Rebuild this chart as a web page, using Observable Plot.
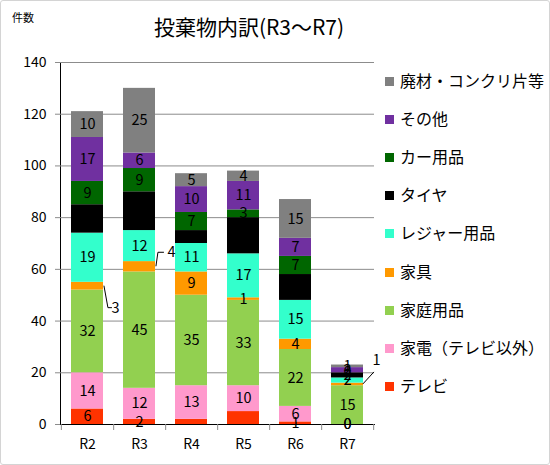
<!DOCTYPE html>
<html><head><meta charset="utf-8">
<script src="https://cdn.jsdelivr.net/npm/d3@7"></script>
<script src="https://cdn.jsdelivr.net/npm/@observablehq/plot@0.6"></script>
<style>
body{margin:0;background:#fff;}
#wrap{position:relative;width:550px;height:465px;overflow:hidden;font-family:"Noto Sans CJK JP","Noto Sans",sans-serif;color:#000;}
#frame{position:absolute;left:0;top:0;width:548px;height:463px;border:1px solid #d4d4d4;border-radius:3px;pointer-events:none;}
#title{position:absolute;left:0;width:498px;top:11px;text-align:center;font-size:21px;line-height:30px;}
#unit{position:absolute;left:12px;top:9px;font-size:11px;line-height:16px;}
.lg{position:absolute;left:385px;font-size:16px;line-height:20px;white-space:nowrap;}
.lg span{display:inline-block;width:9px;height:9px;margin-right:6px;vertical-align:1px;}
#plot{position:absolute;left:0;top:0;}
</style></head><body>
<div id="wrap"><div id="plot"></div><div id="title"></div><div id="unit"></div><div id="legend"></div><div id="frame"></div></div>
<script>
const titleText = "投棄物内訳(R3～R7)";
const unitText = "件数";
const years = ["R2","R3","R4","R5","R6","R7"];
const categories = ["テレビ","家電（テレビ以外）","家庭用品","家具","レジャー用品","タイヤ","カー用品","その他","廃材・コンクリ片等"];
const colors = ["#ff3300","#ff99cc","#92d050","#ff9900","#33ffcc","#000000","#006600","#7030a0","#808080"];
const tv        = [6, 2, 2, 5, 1, 0];
const appliance = [14, 12, 13, 10, 6, 0];
const household = [32, 45, 35, 33, 22, 15];
const furniture = [3, 4, 9, 1, 4, 1];
const leisure   = [19, 12, 11, 17, 15, 2];
const tire      = [11, 15, 5, 14, 10, 2];
const carGoods  = [9, 9, 7, 3, 7, 0];
const other     = [17, 6, 10, 11, 7, 2];
const debris    = [10, 25, 5, 4, 15, 1];
const yTicks = [0, 20, 40, 60, 80, 100, 120, 140];

const series = [tv, appliance, household, furniture, leisure, tire, carGoods, other, debris];
const rows = [];
categories.forEach((c, i) => years.forEach((yr, j) => rows.push({year: yr, cat: c, value: series[i][j]})));

// labels hidden in the reference / drawn outside with leader lines
const hidden = new Set(["R4|テレビ", "R5|テレビ"]);
const outside = [
  {year: "R2", dx: 28, dy: 22, path: "up"},
  {year: "R3", dx: 32, dy: -14, path: "down"},
  {year: "R7", dx: 29, dy: -24, path: "diag"}
];
const fIdx = categories.indexOf("家具");
outside.forEach(o => {
  const j = years.indexOf(o.year);
  let base = 0;
  for (let i = 0; i < fIdx; i++) base += series[i][j];
  o.mid = base + series[fIdx][j] / 2;
  o.value = series[fIdx][j];
  hidden.add(o.year + "|家具");
});

const W = 550, H = 465, mL = 60, mR = 176, mT = 62, mB = 41;
const pIn = 0.39, pOut = 0.195;
const step = (W - mL - mR) / (years.length - pIn + 2 * pOut);
const bw = step * (1 - pIn);
const font = '"Noto Sans CJK JP","Noto Sans",sans-serif';

const marks = [
  Plot.ruleY(yTicks.slice(1), {stroke: "#8c8c8c", strokeWidth: 1}),
  Plot.barY(rows, Plot.stackY({x: "year", y: "value", fill: "cat", order: categories})),
  Plot.text(rows, Plot.stackY({x: "year", y: "value", z: "cat", order: categories,
    text: d => hidden.has(d.year + "|" + d.cat) ? "" : String(d.value),
    fill: "#000", fontSize: 14.5, fontFamily: font})),
  Plot.ruleX(years, {x: d => d, dx: step / 2, y1: 0, y2: 0, insetBottom: -6, stroke: "#8c8c8c"}),
  Plot.ruleX([years[0]], {x: d => d, dx: -step / 2, y1: 0, y2: 0, insetBottom: -6, stroke: "#8c8c8c"})
];
outside.forEach(o => {
  marks.push(Plot.text([o], {x: "year", y: "mid", text: d => String(d.value), dx: o.dx, dy: o.dy,
    fill: "#000", fontSize: 14.5, fontFamily: font}));
});

const plot = Plot.plot({
  width: W, height: H,
  marginLeft: mL, marginRight: mR, marginTop: mT, marginBottom: mB,
  x: {domain: years, paddingInner: pIn, paddingOuter: pOut, align: 0.5, label: null, tickSize: 0, tickPadding: 15, line: true},
  y: {domain: [0, 140], ticks: yTicks, label: null, tickSize: 5, tickPadding: 9, line: true},
  color: {domain: categories, range: colors},
  style: {fontFamily: font, fontSize: "14px", background: "transparent", color: "#000", overflow: "visible"},
  marks
});
document.getElementById("plot").appendChild(plot);

// axis line/tick colours
d3.select(plot).selectAll("g[aria-label*='axis'] path, g[aria-label*='axis'] line").attr("stroke", "#8c8c8c");

// leader lines through the plot's scales
const xs = plot.scale("x"), ys = plot.scale("y");
const svg = d3.select(plot);
outside.forEach(o => {
  const xr = xs.apply(o.year) + bw;
  const ym = ys.apply(o.mid);
  let p;
  if (o.path === "up") p = `M${xr + 1},${ym} L${xr + 5},${ym + o.dy} L${xr + 9},${ym + o.dy}`;
  else if (o.path === "down") p = `M${xr + 1},${ym} L${xr + 3},${ym + o.dy} L${xr + 9},${ym + o.dy}`;
  else p = `M${xr},${ym} L${xr + 11},${ym + o.dy + 12}`;
  svg.append("path").attr("d", p).attr("fill", "none").attr("stroke", "#000").attr("stroke-width", 1);
});

document.getElementById("title").textContent = titleText;
document.getElementById("unit").textContent = unitText;
const legend = document.getElementById("legend");
const legendTop = 70, legendStep = 38.1;
categories.slice().reverse().forEach((c, k) => {
  const div = document.createElement("div");
  div.className = "lg";
  div.style.top = (legendTop + k * legendStep) + "px";
  const sw = document.createElement("span");
  sw.style.background = colors[categories.indexOf(c)];
  div.appendChild(sw);
  div.appendChild(document.createTextNode(c));
  legend.appendChild(div);
});
</script>
</body></html>
